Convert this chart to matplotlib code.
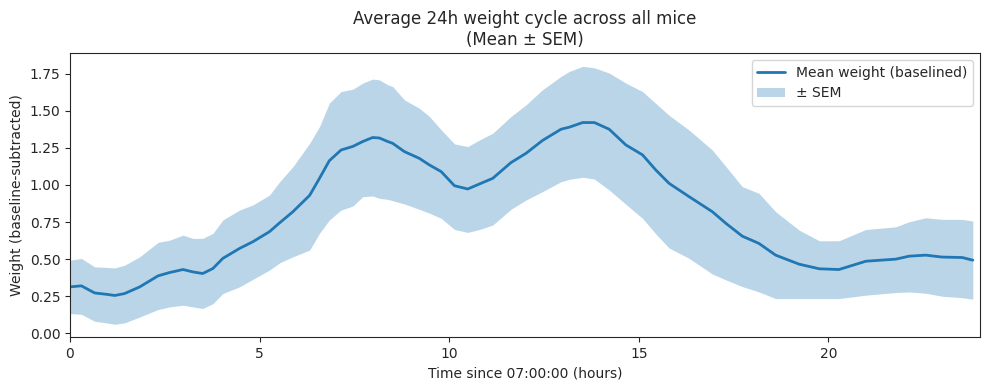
import matplotlib
matplotlib.use("Agg")
import matplotlib.pyplot as plt
import seaborn as sns
import numpy as np

sns.set_style("ticks")
plt.rcParams['font.family'] = ['DejaVu Sans']

hours = [0.0, 0.30, 0.65, 0.96, 1.18, 1.44, 1.84, 2.32, 2.63, 2.98, 3.24, 3.5, 3.77,
         4.03, 4.47, 4.82, 5.26, 5.53, 5.88, 6.32, 6.58, 6.84, 7.15, 7.46, 7.72, 7.98,
         8.16, 8.38, 8.51, 8.82, 9.21, 9.48, 9.79, 10.14, 10.49, 10.8, 11.15, 11.63,
         12.03, 12.46, 12.95, 13.17, 13.52, 13.83, 14.22, 14.66, 15.1, 15.45, 15.8, 16.33,
         16.94, 17.3, 17.73, 18.17, 18.61, 19.23, 19.76, 20.28, 20.99, 21.78, 22.13,
         22.57, 23.0, 23.53, 23.81]
mean_w = [0.313, 0.32, 0.272, 0.263, 0.255, 0.268, 0.313, 0.387, 0.41, 0.43, 0.414, 0.403,
          0.437, 0.505, 0.572, 0.617, 0.685, 0.745, 0.82, 0.93, 1.045, 1.164, 1.236, 1.26,
          1.293, 1.32, 1.317, 1.293, 1.281, 1.225, 1.18, 1.135, 1.09, 0.995, 0.973, 1.007,
          1.045, 1.151, 1.214, 1.3, 1.376, 1.39, 1.421, 1.421, 1.376, 1.27, 1.203, 1.101,
          1.011, 0.921, 0.82, 0.741, 0.655, 0.606, 0.527, 0.466, 0.435, 0.43, 0.486, 0.5,
          0.52, 0.527, 0.514, 0.511, 0.493]
lower_w = [0.133, 0.128, 0.081, 0.07, 0.061, 0.07, 0.11, 0.16, 0.178, 0.189, 0.178, 0.167,
           0.2, 0.268, 0.313, 0.363, 0.426, 0.475, 0.516, 0.561, 0.674, 0.764, 0.831, 0.858,
           0.921, 0.926, 0.91, 0.903, 0.894, 0.872, 0.836, 0.81, 0.775, 0.70, 0.68, 0.70,
           0.73, 0.836, 0.899, 0.955, 1.022, 1.038, 1.052, 1.04, 0.966, 0.87, 0.775, 0.67,
           0.575, 0.505, 0.40, 0.36, 0.315, 0.279, 0.234, 0.234, 0.234, 0.234, 0.257, 0.275,
           0.279, 0.27, 0.25, 0.24, 0.23]
upper_w = [0.493, 0.505, 0.448, 0.444, 0.441, 0.459, 0.516, 0.613, 0.628, 0.662, 0.64, 0.64,
           0.674, 0.764, 0.831, 0.865, 0.932, 1.022, 1.124, 1.281, 1.394, 1.552, 1.63, 1.646,
           1.687, 1.714, 1.709, 1.676, 1.664, 1.574, 1.518, 1.462, 1.372, 1.277, 1.259, 1.304,
           1.349, 1.462, 1.541, 1.642, 1.732, 1.766, 1.8, 1.79, 1.755, 1.687, 1.63, 1.55,
           1.47, 1.37, 1.236, 1.124, 0.989, 0.944, 0.82, 0.696, 0.624, 0.624, 0.7, 0.718,
           0.752, 0.779, 0.768, 0.768, 0.757]

fig = plt.figure(figsize=(9.89, 3.9), dpi=100)
ax = fig.add_axes([70/989, 1-337/390, (980-70)/989, (337-53)/390])
ax.plot(hours, mean_w, color="C0", lw=2, label="Mean weight (baselined)")
ax.fill_between(hours, lower_w, upper_w, color="C0", alpha=0.3, lw=0, label="± SEM")
ax.set_xlim(0, 24)
ax.set_ylim(-0.025, 1.89)
ax.set_xticks([0, 5, 10, 15, 20])
ax.set_yticks([0, 0.25, 0.5, 0.75, 1.0, 1.25, 1.5, 1.75])
ax.set_xlabel("Time since 07:00:00 (hours)")
ax.set_ylabel("Weight (baseline-subtracted)")
ax.set_title("Average 24h weight cycle across all mice\n(Mean ± SEM)", fontsize=12)
ax.legend(loc="upper right")
fig.savefig("out.png", dpi=100)
